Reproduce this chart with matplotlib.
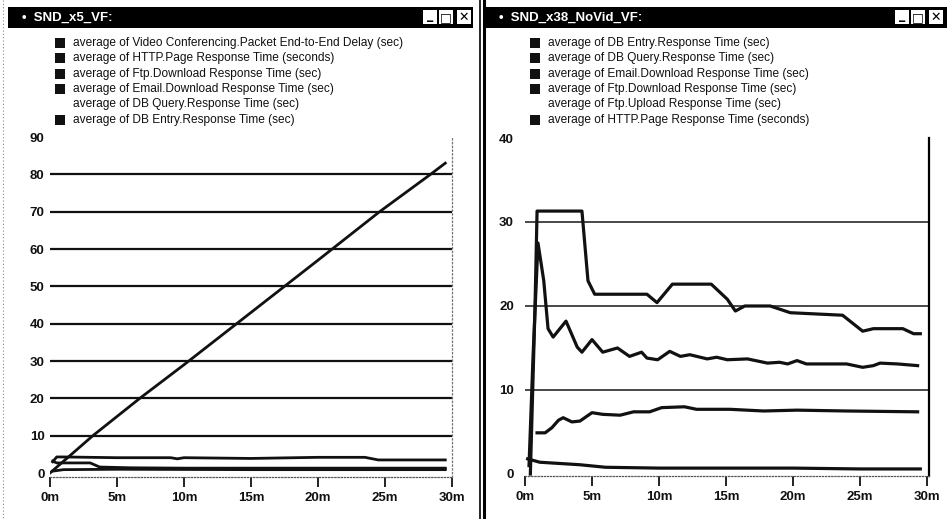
import matplotlib.pyplot as plt
from matplotlib.patches import Rectangle

W, H = 947, 519

# ---- left window: SND_x5_VF ----
left_title = "•  SND_x5_VF:"
left_legend = [
    "average of Video Conferencing.Packet End-to-End Delay (sec)",
    "average of HTTP.Page Response Time (seconds)",
    "average of Ftp.Download Response Time (sec)",
    "average of Email.Download Response Time (sec)",
    "average of DB Query.Response Time (sec)",
    "average of DB Entry.Response Time (sec)",
]
left_swatch = [True, True, True, True, False, True]

t_video = [0, 3.2, 6.7, 10, 15, 20, 24.6, 28.4, 29.5]
v_video = [0, 10, 20, 29, 43, 57, 70, 80, 83]

t_http_l = [0.2, 0.5, 1, 5, 9, 9.5, 10, 15, 20, 23.5, 24.5, 29.5]
v_http_l = [3.0, 4.3, 4.3, 4.1, 4.1, 3.8, 4.1, 3.9, 4.2, 4.2, 3.5, 3.5]

t_ftp_l = [0.2, 0.5, 3, 3.7, 6, 10, 20, 29.5]
v_ftp_l = [3.2, 2.7, 2.7, 1.6, 1.4, 1.3, 1.3, 1.3]

t_mail_l = [0.2, 1, 5, 15, 29.5]
v_mail_l = [0.5, 0.9, 1.0, 0.9, 0.9]

# ---- right window: SND_x38_NoVid_VF ----
right_title = "•  SND_x38_NoVid_VF:"
right_legend = [
    "average of DB Entry.Response Time (sec)",
    "average of DB Query.Response Time (sec)",
    "average of Email.Download Response Time (sec)",
    "average of Ftp.Download Response Time (sec)",
    "average of Ftp.Upload Response Time (sec)",
    "average of HTTP.Page Response Time (seconds)",
]
right_swatch = [True, True, True, True, False, True]

t_http_r = [0.4, 0.75, 0.9, 4.25, 4.7, 5.2, 9.1, 9.85, 11, 13.9, 15.1, 15.7,
            16.4, 18.3, 19.8, 23.7, 25.2, 26, 28.2, 29, 29.5]
v_http_r = [0, 20, 31.3, 31.3, 23, 21.4, 21.4, 20.4, 22.6, 22.6, 20.8, 19.4,
            20, 20, 19.2, 18.9, 17.0, 17.3, 17.3, 16.7, 16.7]

t_ftp_r = [0.3, 0.6, 0.97, 1.4, 1.72, 2.1, 3.06, 3.9, 4.25, 5, 5.8, 6.9, 7.8,
           8.7, 9.1, 9.9, 10.8, 11.6, 12.3, 13.6, 14.3, 15.1, 16.6, 18.1, 19,
           19.6, 20.3, 21, 24, 25.2, 26, 26.5, 27.8, 29.3]
v_ftp_r = [1.0, 14, 27.5, 23, 17.3, 16.3, 18.2, 15.1, 14.5, 16.0, 14.5, 15.0,
           14.0, 14.5, 13.8, 13.6, 14.6, 14.0, 14.2, 13.7, 13.9, 13.6, 13.7,
           13.2, 13.3, 13.1, 13.5, 13.1, 13.1, 12.7, 12.9, 13.2, 13.1, 12.9]

t_mail_r = [0.9, 1.5, 2.0, 2.5, 2.85, 3.5, 4.1, 5, 5.8, 7.1, 8.1, 9.3, 10.2,
            11.9, 12.8, 15.3, 17.8, 20.3, 24, 29.3]
v_mail_r = [4.9, 4.9, 5.5, 6.4, 6.7, 6.2, 6.3, 7.3, 7.1, 7.0, 7.4, 7.4, 7.9,
            8.0, 7.7, 7.7, 7.5, 7.6, 7.5, 7.4]

t_db_r = [0.2, 1.1, 2.1, 4.1, 6, 10, 20, 25, 29.5]
v_db_r = [1.8, 1.4, 1.3, 1.1, 0.8, 0.7, 0.7, 0.6, 0.6]

plt.rcParams['font.family'] = ['Liberation Sans', 'DejaVu Sans']


def box(x0, y0, x1, y1):
    # pixel rectangle (top-left origin) -> figure fraction
    return [x0 / W, 1 - y1 / H, (x1 - x0) / W, (y1 - y0) / H]


fig = plt.figure(figsize=(W / 100, H / 100), dpi=100, facecolor='white')
bg = fig.add_axes([0, 0, 1, 1])
bg.set_xlim(0, W)
bg.set_ylim(H, 0)
bg.axis('off')


def window(x0, x1, title, buttons_x, legend, swatch, sq_x, txt_x):
    bg.add_patch(Rectangle((x0, 7), x1 - x0, 21, color='black', lw=0))
    bg.text(x0 + 14, 17.5, title, color='white', fontsize=9.5,
            fontweight='bold', va='center', ha='left')
    for bx, glyph in zip(buttons_x, ['_', '□', '✕']):
        bg.add_patch(Rectangle((bx, 10), 14, 14, color='white', lw=0))
        bg.text(bx + 7, 17.5 if glyph != '_' else 15, glyph, color='black',
                fontsize=9, fontweight='bold', ha='center', va='center',
                family='DejaVu Sans')
    for i, (lab, has_sq) in enumerate(zip(legend, swatch)):
        y = 43 + i * 15.3
        if has_sq:
            bg.add_patch(Rectangle((sq_x, y - 5), 10, 10, color='#111', lw=0))
        bg.text(txt_x, y, lab, fontsize=8.6, va='center', ha='left', color='#111')


window(8, 473, left_title, [423, 439, 457], left_legend, left_swatch, 55, 73)
window(485, 947, right_title, [895, 911, 929], right_legend, right_swatch, 530, 548)

# window frames
bg.plot([3, 3], [0, H], color='0.55', lw=0.8, ls=(0, (1, 2)))
bg.plot([480, 480], [0, H], color='black', lw=1.2)
bg.plot([484, 484], [0, H], color='black', lw=2.2)


def setup(ax, ymin, ymax, xmax, grid_col, grid_lw, right_solid, ypad):
    ax.set_facecolor('none')
    ax.set_xlim(0, xmax)
    ax.set_ylim(ymin, ymax)
    ax.spines['top'].set_visible(False)
    ax.spines['left'].set_visible(False)
    ax.spines['bottom'].set_linestyle((0, (1, 1.5)))
    ax.spines['bottom'].set_color('0.35')
    ax.spines['bottom'].set_linewidth(0.9)
    if right_solid:
        ax.spines['right'].set_color('black')
        ax.spines['right'].set_linewidth(1.6)
    else:
        ax.spines['right'].set_linestyle((0, (1, 2)))
        ax.spines['right'].set_color('0.45')
        ax.spines['right'].set_linewidth(0.9)
    ticks = list(range(0, 31, 5))
    ax.set_xticks(ticks)
    ax.set_xticklabels([f"{m}m" for m in ticks])
    ax.set_yticks(list(range(0, int(ymax) + 1, 10)))
    ax.tick_params(axis='x', direction='out', length=7.5, width=1.3,
                   pad=3, labelsize=9.5, colors='#111')
    ax.tick_params(axis='y', length=0, pad=ypad, labelsize=9.5, colors='#111')
    for lab in ax.get_xticklabels() + ax.get_yticklabels():
        lab.set_fontweight('bold')
    for g in range(10, int(ymax), 10):
        ax.axhline(g, color=grid_col, lw=grid_lw, zorder=1)


# left chart: 0 at y=473 px, 90 at y=137 px, dotted baseline at 477
axl = fig.add_axes(box(50, 137, 452, 477))
setup(axl, -1.07, 90, 30, '#111', 1.6, False, 4)
lk = dict(color='#111', lw=2.0, zorder=3)
axl.plot(t_video, v_video, **lk)
axl.plot(t_http_l, v_http_l, **lk)
axl.plot(t_ftp_l, v_ftp_l, **lk)
axl.plot(t_mail_l, v_mail_l, **lk)

# right chart: 0 at y=474 px, 40 at y=138 px
axr = fig.add_axes(box(525, 138, 929, 476))
setup(axr, -0.24, 40, 30.15, '#2a2a2a', 1.2, True, 8)
rk = dict(color='#111', lw=2.3, zorder=3)
axr.plot(t_http_r, v_http_r, **rk)
axr.plot(t_ftp_r, v_ftp_r, **rk)
axr.plot(t_mail_r, v_mail_r, **rk)
axr.plot(t_db_r, v_db_r, **rk)

fig.savefig('out.png', dpi=100, facecolor='white')
